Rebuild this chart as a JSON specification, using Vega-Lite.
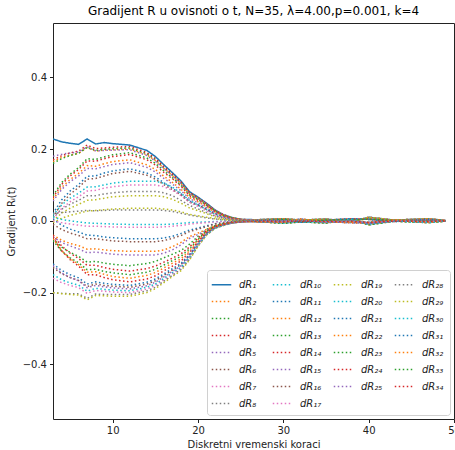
{
"$schema":"https://vega.github.io/schema/vega-lite/v6.json",
"width":401,"height":396,
"autosize":{"type":"none"},
"padding":{"left":53,"top":23,"right":1,"bottom":31},
"title":{"text":"Gradijent R u ovisnoti o t, N=35, λ=4.00,p=0.001, k=4","fontSize":12,"font":"DejaVu Sans","fontWeight":"normal","color":"#000","offset":5},
"config":{
"view":{"stroke":"#222","strokeWidth":1},
"axis":{"domain":false,"grid":false,"tickColor":"#222","tickSize":3.5,"tickWidth":1,"labelFont":"DejaVu Sans","labelFontSize":10,"labelColor":"#222","titleFont":"DejaVu Sans","titleFontSize":10,"titleFontWeight":"normal","titleColor":"#222","labelPadding":3},
"legend":{"orient":"bottom-right","direction":"horizontal","offset":4,"columns":4,"gridAlign":"all","symbolType":"M-1.3,0H1.3","symbolSize":225,"symbolStrokeWidth":1.5,"labelFont":"DejaVu Sans","labelFontSize":10,"labelFontStyle":"italic","labelColor":"#222","labelOffset":9,"rowPadding":3,"columnPadding":8,"padding":6,"fillColor":"white","strokeColor":"#d0d0d0","cornerRadius":3}
},
"data":{"values":[
{"s":1,"t":3,"v":0.228},{"s":1,"t":4,"v":0.22},{"s":1,"t":5,"v":0.216},{"s":1,"t":6,"v":0.213},{"s":1,"t":7,"v":0.228},{"s":1,"t":8,"v":0.214},{"s":1,"t":9,"v":0.218},{"s":1,"t":10,"v":0.215},{"s":1,"t":12,"v":0.211},{"s":1,"t":14,"v":0.196},{"s":1,"t":15,"v":0.179},{"s":1,"t":16,"v":0.156},{"s":1,"t":17,"v":0.134},{"s":1,"t":18,"v":0.111},{"s":1,"t":19,"v":0.081},{"s":1,"t":20,"v":0.066},{"s":1,"t":21,"v":0.049},{"s":1,"t":22,"v":0.03},{"s":1,"t":23,"v":0.017},{"s":1,"t":24,"v":0.009},{"s":1,"t":25,"v":0.004},{"s":1,"t":27,"v":0.003},{"s":1,"t":30,"v":0.006},{"s":1,"t":32,"v":0.002},{"s":1,"t":35,"v":0.005},{"s":1,"t":38,"v":-0.003},{"s":1,"t":40,"v":0.01},{"s":1,"t":43,"v":0.002},{"s":1,"t":47,"v":0.006},{"s":1,"t":49,"v":0.001},
{"s":2,"t":3,"v":0.165},{"s":2,"t":4,"v":0.176},{"s":2,"t":5,"v":0.183},{"s":2,"t":6,"v":0.188},{"s":2,"t":7,"v":0.204},{"s":2,"t":8,"v":0.194},{"s":2,"t":9,"v":0.197},{"s":2,"t":10,"v":0.198},{"s":2,"t":12,"v":0.2},{"s":2,"t":14,"v":0.184},{"s":2,"t":15,"v":0.168},{"s":2,"t":16,"v":0.146},{"s":2,"t":17,"v":0.126},{"s":2,"t":18,"v":0.104},{"s":2,"t":19,"v":0.076},{"s":2,"t":20,"v":0.062},{"s":2,"t":21,"v":0.046},{"s":2,"t":22,"v":0.028},{"s":2,"t":23,"v":0.016},{"s":2,"t":24,"v":0.008},{"s":2,"t":25,"v":0.004},{"s":2,"t":27,"v":-0.002},{"s":2,"t":30,"v":-0.007},{"s":2,"t":32,"v":-0.003},{"s":2,"t":35,"v":-0.006},{"s":2,"t":38,"v":0.004},{"s":2,"t":40,"v":-0.011},{"s":2,"t":43,"v":-0.001},{"s":2,"t":47,"v":-0.005},{"s":2,"t":49,"v":-0.001},
{"s":3,"t":3,"v":0.16},{"s":3,"t":4,"v":0.173},{"s":3,"t":5,"v":0.182},{"s":3,"t":6,"v":0.188},{"s":3,"t":7,"v":0.205},{"s":3,"t":8,"v":0.196},{"s":3,"t":9,"v":0.199},{"s":3,"t":10,"v":0.201},{"s":3,"t":12,"v":0.203},{"s":3,"t":14,"v":0.187},{"s":3,"t":15,"v":0.171},{"s":3,"t":16,"v":0.148},{"s":3,"t":17,"v":0.128},{"s":3,"t":18,"v":0.106},{"s":3,"t":19,"v":0.077},{"s":3,"t":20,"v":0.063},{"s":3,"t":21,"v":0.047},{"s":3,"t":22,"v":0.028},{"s":3,"t":23,"v":0.016},{"s":3,"t":24,"v":0.008},{"s":3,"t":25,"v":0.004},{"s":3,"t":27,"v":0.001},{"s":3,"t":30,"v":0.005},{"s":3,"t":32,"v":-0.004},{"s":3,"t":35,"v":0.002},{"s":3,"t":38,"v":0.006},{"s":3,"t":40,"v":0.004},{"s":3,"t":43,"v":-0.002},{"s":3,"t":47,"v":0.004},{"s":3,"t":49,"v":0},
{"s":4,"t":3,"v":0.17},{"s":4,"t":4,"v":0.181},{"s":4,"t":5,"v":0.189},{"s":4,"t":6,"v":0.194},{"s":4,"t":7,"v":0.211},{"s":4,"t":8,"v":0.201},{"s":4,"t":9,"v":0.203},{"s":4,"t":10,"v":0.205},{"s":4,"t":12,"v":0.207},{"s":4,"t":14,"v":0.19},{"s":4,"t":15,"v":0.174},{"s":4,"t":16,"v":0.151},{"s":4,"t":17,"v":0.13},{"s":4,"t":18,"v":0.108},{"s":4,"t":19,"v":0.079},{"s":4,"t":20,"v":0.064},{"s":4,"t":21,"v":0.048},{"s":4,"t":22,"v":0.029},{"s":4,"t":23,"v":0.017},{"s":4,"t":24,"v":0.008},{"s":4,"t":25,"v":0.004},{"s":4,"t":27,"v":-0.003},{"s":4,"t":30,"v":-0.004},{"s":4,"t":32,"v":0.005},{"s":4,"t":35,"v":-0.003},{"s":4,"t":38,"v":-0.005},{"s":4,"t":40,"v":-0.006},{"s":4,"t":43,"v":0.002},{"s":4,"t":47,"v":-0.004},{"s":4,"t":49,"v":0.001},
{"s":5,"t":3,"v":0.18},{"s":5,"t":4,"v":0.185},{"s":5,"t":5,"v":0.189},{"s":5,"t":6,"v":0.192},{"s":5,"t":7,"v":0.206},{"s":5,"t":8,"v":0.195},{"s":5,"t":9,"v":0.196},{"s":5,"t":10,"v":0.197},{"s":5,"t":12,"v":0.198},{"s":5,"t":14,"v":0.182},{"s":5,"t":15,"v":0.166},{"s":5,"t":16,"v":0.145},{"s":5,"t":17,"v":0.125},{"s":5,"t":18,"v":0.103},{"s":5,"t":19,"v":0.075},{"s":5,"t":20,"v":0.061},{"s":5,"t":21,"v":0.046},{"s":5,"t":22,"v":0.028},{"s":5,"t":23,"v":0.016},{"s":5,"t":24,"v":0.008},{"s":5,"t":25,"v":0.004},{"s":5,"t":27,"v":0.001},{"s":5,"t":30,"v":0.003},{"s":5,"t":32,"v":0.001},{"s":5,"t":35,"v":0.002},{"s":5,"t":38,"v":0.002},{"s":5,"t":40,"v":0.005},{"s":5,"t":43,"v":0.001},{"s":5,"t":47,"v":0.002},{"s":5,"t":49,"v":0},
{"s":6,"t":3,"v":-0.13},{"s":6,"t":4,"v":-0.147},{"s":6,"t":5,"v":-0.158},{"s":6,"t":6,"v":-0.166},{"s":6,"t":7,"v":-0.183},{"s":6,"t":8,"v":-0.176},{"s":6,"t":9,"v":-0.18},{"s":6,"t":10,"v":-0.182},{"s":6,"t":12,"v":-0.185},{"s":6,"t":14,"v":-0.176},{"s":6,"t":15,"v":-0.167},{"s":6,"t":16,"v":-0.152},{"s":6,"t":17,"v":-0.137},{"s":6,"t":18,"v":-0.122},{"s":6,"t":19,"v":-0.096},{"s":6,"t":20,"v":-0.063},{"s":6,"t":21,"v":-0.035},{"s":6,"t":22,"v":-0.019},{"s":6,"t":23,"v":-0.011},{"s":6,"t":24,"v":-0.006},{"s":6,"t":25,"v":-0.003},{"s":6,"t":27,"v":-0.001},{"s":6,"t":30,"v":-0.003},{"s":6,"t":32,"v":-0.001},{"s":6,"t":35,"v":-0.002},{"s":6,"t":38,"v":-0.002},{"s":6,"t":40,"v":-0.004},{"s":6,"t":43,"v":-0.001},{"s":6,"t":47,"v":-0.002},{"s":6,"t":49,"v":0},
{"s":7,"t":3,"v":-0.16},{"s":7,"t":4,"v":-0.172},{"s":7,"t":5,"v":-0.18},{"s":7,"t":6,"v":-0.186},{"s":7,"t":7,"v":-0.202},{"s":7,"t":8,"v":-0.194},{"s":7,"t":9,"v":-0.196},{"s":7,"t":10,"v":-0.198},{"s":7,"t":12,"v":-0.2},{"s":7,"t":14,"v":-0.19},{"s":7,"t":15,"v":-0.18},{"s":7,"t":16,"v":-0.164},{"s":7,"t":17,"v":-0.148},{"s":7,"t":18,"v":-0.132},{"s":7,"t":19,"v":-0.104},{"s":7,"t":20,"v":-0.068},{"s":7,"t":21,"v":-0.038},{"s":7,"t":22,"v":-0.02},{"s":7,"t":23,"v":-0.012},{"s":7,"t":24,"v":-0.006},{"s":7,"t":25,"v":-0.003},{"s":7,"t":27,"v":0.002},{"s":7,"t":30,"v":0},{"s":7,"t":32,"v":0.002},{"s":7,"t":35,"v":-0.004},{"s":7,"t":38,"v":0.001},{"s":7,"t":40,"v":-0.008},{"s":7,"t":43,"v":0},{"s":7,"t":47,"v":0.003},{"s":7,"t":49,"v":-0.001},
{"s":8,"t":3,"v":-0.2},{"s":8,"t":4,"v":-0.202},{"s":8,"t":5,"v":-0.203},{"s":8,"t":6,"v":-0.203},{"s":8,"t":7,"v":-0.216},{"s":8,"t":8,"v":-0.204},{"s":8,"t":9,"v":-0.205},{"s":8,"t":10,"v":-0.205},{"s":8,"t":12,"v":-0.205},{"s":8,"t":14,"v":-0.195},{"s":8,"t":15,"v":-0.185},{"s":8,"t":16,"v":-0.168},{"s":8,"t":17,"v":-0.152},{"s":8,"t":18,"v":-0.135},{"s":8,"t":19,"v":-0.107},{"s":8,"t":20,"v":-0.07},{"s":8,"t":21,"v":-0.039},{"s":8,"t":22,"v":-0.021},{"s":8,"t":23,"v":-0.012},{"s":8,"t":24,"v":-0.006},{"s":8,"t":25,"v":-0.003},{"s":8,"t":27,"v":0.003},{"s":8,"t":30,"v":0.006},{"s":8,"t":32,"v":0.002},{"s":8,"t":35,"v":0.005},{"s":8,"t":38,"v":-0.003},{"s":8,"t":40,"v":0.01},{"s":8,"t":43,"v":0.002},{"s":8,"t":47,"v":0.006},{"s":8,"t":49,"v":0.001},
{"s":9,"t":3,"v":0},{"s":9,"t":4,"v":0.021},{"s":9,"t":5,"v":0.035},{"s":9,"t":6,"v":0.046},{"s":9,"t":7,"v":0.057},{"s":9,"t":8,"v":0.059},{"s":9,"t":9,"v":0.063},{"s":9,"t":10,"v":0.067},{"s":9,"t":12,"v":0.07},{"s":9,"t":14,"v":0.07},{"s":9,"t":15,"v":0.07},{"s":9,"t":16,"v":0.067},{"s":9,"t":17,"v":0.06},{"s":9,"t":18,"v":0.049},{"s":9,"t":19,"v":0.036},{"s":9,"t":20,"v":0.028},{"s":9,"t":21,"v":0.02},{"s":9,"t":22,"v":0.011},{"s":9,"t":23,"v":0.006},{"s":9,"t":24,"v":0.003},{"s":9,"t":25,"v":0.001},{"s":9,"t":27,"v":-0.002},{"s":9,"t":30,"v":-0.007},{"s":9,"t":32,"v":-0.003},{"s":9,"t":35,"v":-0.006},{"s":9,"t":38,"v":0.004},{"s":9,"t":40,"v":-0.011},{"s":9,"t":43,"v":-0.001},{"s":9,"t":47,"v":-0.005},{"s":9,"t":49,"v":-0.001},
{"s":10,"t":3,"v":0.015},{"s":10,"t":4,"v":0.044},{"s":10,"t":5,"v":0.063},{"s":10,"t":6,"v":0.077},{"s":10,"t":7,"v":0.094},{"s":10,"t":8,"v":0.095},{"s":10,"t":9,"v":0.1},{"s":10,"t":10,"v":0.105},{"s":10,"t":12,"v":0.11},{"s":10,"t":14,"v":0.11},{"s":10,"t":15,"v":0.11},{"s":10,"t":16,"v":0.105},{"s":10,"t":17,"v":0.094},{"s":10,"t":18,"v":0.077},{"s":10,"t":19,"v":0.057},{"s":10,"t":20,"v":0.044},{"s":10,"t":21,"v":0.031},{"s":10,"t":22,"v":0.018},{"s":10,"t":23,"v":0.01},{"s":10,"t":24,"v":0.005},{"s":10,"t":25,"v":0.002},{"s":10,"t":27,"v":0.001},{"s":10,"t":30,"v":0.005},{"s":10,"t":32,"v":-0.004},{"s":10,"t":35,"v":0.002},{"s":10,"t":38,"v":0.006},{"s":10,"t":40,"v":0.004},{"s":10,"t":43,"v":-0.002},{"s":10,"t":47,"v":0.004},{"s":10,"t":49,"v":0},
{"s":11,"t":3,"v":0.02},{"s":11,"t":4,"v":0.058},{"s":11,"t":5,"v":0.083},{"s":11,"t":6,"v":0.101},{"s":11,"t":7,"v":0.124},{"s":11,"t":8,"v":0.125},{"s":11,"t":9,"v":0.133},{"s":11,"t":10,"v":0.139},{"s":11,"t":12,"v":0.145},{"s":11,"t":14,"v":0.133},{"s":11,"t":15,"v":0.122},{"s":11,"t":16,"v":0.106},{"s":11,"t":17,"v":0.091},{"s":11,"t":18,"v":0.075},{"s":11,"t":19,"v":0.055},{"s":11,"t":20,"v":0.045},{"s":11,"t":21,"v":0.033},{"s":11,"t":22,"v":0.02},{"s":11,"t":23,"v":0.012},{"s":11,"t":24,"v":0.006},{"s":11,"t":25,"v":0.003},{"s":11,"t":27,"v":-0.003},{"s":11,"t":30,"v":-0.004},{"s":11,"t":32,"v":0.005},{"s":11,"t":35,"v":-0.003},{"s":11,"t":38,"v":-0.005},{"s":11,"t":40,"v":-0.006},{"s":11,"t":43,"v":0.002},{"s":11,"t":47,"v":-0.004},{"s":11,"t":49,"v":0.001},
{"s":12,"t":3,"v":0.06},{"s":12,"t":4,"v":0.093},{"s":12,"t":5,"v":0.115},{"s":12,"t":6,"v":0.132},{"s":12,"t":7,"v":0.154},{"s":12,"t":8,"v":0.152},{"s":12,"t":9,"v":0.159},{"s":12,"t":10,"v":0.165},{"s":12,"t":12,"v":0.17},{"s":12,"t":14,"v":0.156},{"s":12,"t":15,"v":0.143},{"s":12,"t":16,"v":0.124},{"s":12,"t":17,"v":0.107},{"s":12,"t":18,"v":0.088},{"s":12,"t":19,"v":0.065},{"s":12,"t":20,"v":0.053},{"s":12,"t":21,"v":0.039},{"s":12,"t":22,"v":0.024},{"s":12,"t":23,"v":0.014},{"s":12,"t":24,"v":0.007},{"s":12,"t":25,"v":0.003},{"s":12,"t":27,"v":0.001},{"s":12,"t":30,"v":0.003},{"s":12,"t":32,"v":0.001},{"s":12,"t":35,"v":0.002},{"s":12,"t":38,"v":0.002},{"s":12,"t":40,"v":0.005},{"s":12,"t":43,"v":0.001},{"s":12,"t":47,"v":0.002},{"s":12,"t":49,"v":0},
{"s":13,"t":3,"v":0.07},{"s":13,"t":4,"v":0.106},{"s":13,"t":5,"v":0.13},{"s":13,"t":6,"v":0.148},{"s":13,"t":7,"v":0.173},{"s":13,"t":8,"v":0.171},{"s":13,"t":9,"v":0.178},{"s":13,"t":10,"v":0.184},{"s":13,"t":12,"v":0.19},{"s":13,"t":14,"v":0.175},{"s":13,"t":15,"v":0.16},{"s":13,"t":16,"v":0.139},{"s":13,"t":17,"v":0.12},{"s":13,"t":18,"v":0.099},{"s":13,"t":19,"v":0.072},{"s":13,"t":20,"v":0.059},{"s":13,"t":21,"v":0.044},{"s":13,"t":22,"v":0.027},{"s":13,"t":23,"v":0.015},{"s":13,"t":24,"v":0.008},{"s":13,"t":25,"v":0.004},{"s":13,"t":27,"v":-0.001},{"s":13,"t":30,"v":-0.003},{"s":13,"t":32,"v":-0.001},{"s":13,"t":35,"v":-0.002},{"s":13,"t":38,"v":-0.002},{"s":13,"t":40,"v":-0.004},{"s":13,"t":43,"v":-0.001},{"s":13,"t":47,"v":-0.002},{"s":13,"t":49,"v":0},
{"s":14,"t":3,"v":0.065},{"s":14,"t":4,"v":0.101},{"s":14,"t":5,"v":0.125},{"s":14,"t":6,"v":0.143},{"s":14,"t":7,"v":0.167},{"s":14,"t":8,"v":0.166},{"s":14,"t":9,"v":0.173},{"s":14,"t":10,"v":0.179},{"s":14,"t":12,"v":0.185},{"s":14,"t":14,"v":0.17},{"s":14,"t":15,"v":0.155},{"s":14,"t":16,"v":0.135},{"s":14,"t":17,"v":0.117},{"s":14,"t":18,"v":0.096},{"s":14,"t":19,"v":0.07},{"s":14,"t":20,"v":0.057},{"s":14,"t":21,"v":0.043},{"s":14,"t":22,"v":0.026},{"s":14,"t":23,"v":0.015},{"s":14,"t":24,"v":0.007},{"s":14,"t":25,"v":0.004},{"s":14,"t":27,"v":0.002},{"s":14,"t":30,"v":0},{"s":14,"t":32,"v":0.002},{"s":14,"t":35,"v":-0.004},{"s":14,"t":38,"v":0.001},{"s":14,"t":40,"v":-0.008},{"s":14,"t":43,"v":0},{"s":14,"t":47,"v":0.003},{"s":14,"t":49,"v":-0.001},
{"s":15,"t":3,"v":0.055},{"s":15,"t":4,"v":0.087},{"s":15,"t":5,"v":0.109},{"s":15,"t":6,"v":0.125},{"s":15,"t":7,"v":0.146},{"s":15,"t":8,"v":0.145},{"s":15,"t":9,"v":0.151},{"s":15,"t":10,"v":0.157},{"s":15,"t":12,"v":0.162},{"s":15,"t":14,"v":0.149},{"s":15,"t":15,"v":0.136},{"s":15,"t":16,"v":0.118},{"s":15,"t":17,"v":0.102},{"s":15,"t":18,"v":0.084},{"s":15,"t":19,"v":0.062},{"s":15,"t":20,"v":0.05},{"s":15,"t":21,"v":0.037},{"s":15,"t":22,"v":0.023},{"s":15,"t":23,"v":0.013},{"s":15,"t":24,"v":0.006},{"s":15,"t":25,"v":0.003},{"s":15,"t":27,"v":0.003},{"s":15,"t":30,"v":0.006},{"s":15,"t":32,"v":0.002},{"s":15,"t":35,"v":0.005},{"s":15,"t":38,"v":-0.003},{"s":15,"t":40,"v":0.01},{"s":15,"t":43,"v":0.002},{"s":15,"t":47,"v":0.006},{"s":15,"t":49,"v":0.001},
{"s":16,"t":3,"v":0.01},{"s":16,"t":4,"v":0.048},{"s":16,"t":5,"v":0.074},{"s":16,"t":6,"v":0.093},{"s":16,"t":7,"v":0.116},{"s":16,"t":8,"v":0.118},{"s":16,"t":9,"v":0.125},{"s":16,"t":10,"v":0.132},{"s":16,"t":12,"v":0.138},{"s":16,"t":14,"v":0.127},{"s":16,"t":15,"v":0.116},{"s":16,"t":16,"v":0.101},{"s":16,"t":17,"v":0.087},{"s":16,"t":18,"v":0.072},{"s":16,"t":19,"v":0.052},{"s":16,"t":20,"v":0.043},{"s":16,"t":21,"v":0.032},{"s":16,"t":22,"v":0.019},{"s":16,"t":23,"v":0.011},{"s":16,"t":24,"v":0.006},{"s":16,"t":25,"v":0.003},{"s":16,"t":27,"v":-0.002},{"s":16,"t":30,"v":-0.007},{"s":16,"t":32,"v":-0.003},{"s":16,"t":35,"v":-0.006},{"s":16,"t":38,"v":0.004},{"s":16,"t":40,"v":-0.011},{"s":16,"t":43,"v":-0.001},{"s":16,"t":47,"v":-0.005},{"s":16,"t":49,"v":-0.001},
{"s":17,"t":3,"v":0.005},{"s":17,"t":4,"v":0.034},{"s":17,"t":5,"v":0.053},{"s":17,"t":6,"v":0.067},{"s":17,"t":7,"v":0.083},{"s":17,"t":8,"v":0.085},{"s":17,"t":9,"v":0.091},{"s":17,"t":10,"v":0.095},{"s":17,"t":12,"v":0.1},{"s":17,"t":14,"v":0.1},{"s":17,"t":15,"v":0.1},{"s":17,"t":16,"v":0.095},{"s":17,"t":17,"v":0.085},{"s":17,"t":18,"v":0.07},{"s":17,"t":19,"v":0.052},{"s":17,"t":20,"v":0.04},{"s":17,"t":21,"v":0.028},{"s":17,"t":22,"v":0.016},{"s":17,"t":23,"v":0.009},{"s":17,"t":24,"v":0.005},{"s":17,"t":25,"v":0.002},{"s":17,"t":27,"v":0.001},{"s":17,"t":30,"v":0.005},{"s":17,"t":32,"v":-0.004},{"s":17,"t":35,"v":0.002},{"s":17,"t":38,"v":0.006},{"s":17,"t":40,"v":0.004},{"s":17,"t":43,"v":-0.002},{"s":17,"t":47,"v":0.004},{"s":17,"t":49,"v":0},
{"s":18,"t":3,"v":0.01},{"s":18,"t":4,"v":0.032},{"s":18,"t":5,"v":0.046},{"s":18,"t":6,"v":0.057},{"s":18,"t":7,"v":0.07},{"s":18,"t":8,"v":0.07},{"s":18,"t":9,"v":0.075},{"s":18,"t":10,"v":0.078},{"s":18,"t":12,"v":0.082},{"s":18,"t":14,"v":0.082},{"s":18,"t":15,"v":0.082},{"s":18,"t":16,"v":0.078},{"s":18,"t":17,"v":0.07},{"s":18,"t":18,"v":0.057},{"s":18,"t":19,"v":0.043},{"s":18,"t":20,"v":0.033},{"s":18,"t":21,"v":0.023},{"s":18,"t":22,"v":0.013},{"s":18,"t":23,"v":0.007},{"s":18,"t":24,"v":0.004},{"s":18,"t":25,"v":0.002},{"s":18,"t":27,"v":-0.003},{"s":18,"t":30,"v":-0.004},{"s":18,"t":32,"v":0.005},{"s":18,"t":35,"v":-0.003},{"s":18,"t":38,"v":-0.005},{"s":18,"t":40,"v":-0.006},{"s":18,"t":43,"v":0.002},{"s":18,"t":47,"v":-0.004},{"s":18,"t":49,"v":0.001},
{"s":19,"t":3,"v":-0.005},{"s":19,"t":4,"v":0.007},{"s":19,"t":5,"v":0.015},{"s":19,"t":6,"v":0.021},{"s":19,"t":7,"v":0.027},{"s":19,"t":8,"v":0.029},{"s":19,"t":9,"v":0.031},{"s":19,"t":10,"v":0.033},{"s":19,"t":12,"v":0.035},{"s":19,"t":14,"v":0.035},{"s":19,"t":15,"v":0.035},{"s":19,"t":16,"v":0.033},{"s":19,"t":17,"v":0.03},{"s":19,"t":18,"v":0.025},{"s":19,"t":19,"v":0.018},{"s":19,"t":20,"v":0.014},{"s":19,"t":21,"v":0.01},{"s":19,"t":22,"v":0.006},{"s":19,"t":23,"v":0.003},{"s":19,"t":24,"v":0.002},{"s":19,"t":25,"v":0.001},{"s":19,"t":27,"v":0.001},{"s":19,"t":30,"v":0.003},{"s":19,"t":32,"v":0.001},{"s":19,"t":35,"v":0.002},{"s":19,"t":38,"v":0.002},{"s":19,"t":40,"v":0.005},{"s":19,"t":43,"v":0.001},{"s":19,"t":47,"v":0.002},{"s":19,"t":49,"v":0},
{"s":20,"t":3,"v":0.01},{"s":20,"t":4,"v":0.004},{"s":20,"t":5,"v":0},{"s":20,"t":6,"v":-0.003},{"s":20,"t":7,"v":-0.006},{"s":20,"t":8,"v":-0.007},{"s":20,"t":9,"v":-0.008},{"s":20,"t":10,"v":-0.009},{"s":20,"t":12,"v":-0.01},{"s":20,"t":14,"v":-0.01},{"s":20,"t":15,"v":-0.01},{"s":20,"t":16,"v":-0.01},{"s":20,"t":17,"v":-0.009},{"s":20,"t":18,"v":-0.007},{"s":20,"t":19,"v":-0.005},{"s":20,"t":20,"v":-0.004},{"s":20,"t":21,"v":-0.003},{"s":20,"t":22,"v":-0.002},{"s":20,"t":23,"v":-0.001},{"s":20,"t":24,"v":0},{"s":20,"t":25,"v":0},{"s":20,"t":27,"v":-0.001},{"s":20,"t":30,"v":-0.003},{"s":20,"t":32,"v":-0.001},{"s":20,"t":35,"v":-0.002},{"s":20,"t":38,"v":-0.002},{"s":20,"t":40,"v":-0.004},{"s":20,"t":43,"v":-0.001},{"s":20,"t":47,"v":-0.002},{"s":20,"t":49,"v":0},
{"s":21,"t":3,"v":0.005},{"s":21,"t":4,"v":-0.012},{"s":21,"t":5,"v":-0.023},{"s":21,"t":6,"v":-0.031},{"s":21,"t":7,"v":-0.04},{"s":21,"t":8,"v":-0.041},{"s":21,"t":9,"v":-0.045},{"s":21,"t":10,"v":-0.047},{"s":21,"t":12,"v":-0.05},{"s":21,"t":14,"v":-0.05},{"s":21,"t":15,"v":-0.05},{"s":21,"t":16,"v":-0.048},{"s":21,"t":17,"v":-0.043},{"s":21,"t":18,"v":-0.035},{"s":21,"t":19,"v":-0.026},{"s":21,"t":20,"v":-0.02},{"s":21,"t":21,"v":-0.014},{"s":21,"t":22,"v":-0.008},{"s":21,"t":23,"v":-0.005},{"s":21,"t":24,"v":-0.002},{"s":21,"t":25,"v":-0.001},{"s":21,"t":27,"v":0.002},{"s":21,"t":30,"v":0},{"s":21,"t":32,"v":0.002},{"s":21,"t":35,"v":-0.004},{"s":21,"t":38,"v":0.001},{"s":21,"t":40,"v":-0.008},{"s":21,"t":43,"v":0},{"s":21,"t":47,"v":0.003},{"s":21,"t":49,"v":-0.001},
{"s":22,"t":3,"v":-0.04},{"s":22,"t":4,"v":-0.054},{"s":22,"t":5,"v":-0.063},{"s":22,"t":6,"v":-0.069},{"s":22,"t":7,"v":-0.079},{"s":22,"t":8,"v":-0.078},{"s":22,"t":9,"v":-0.081},{"s":22,"t":10,"v":-0.083},{"s":22,"t":12,"v":-0.085},{"s":22,"t":14,"v":-0.085},{"s":22,"t":15,"v":-0.085},{"s":22,"t":16,"v":-0.081},{"s":22,"t":17,"v":-0.072},{"s":22,"t":18,"v":-0.06},{"s":22,"t":19,"v":-0.044},{"s":22,"t":20,"v":-0.034},{"s":22,"t":21,"v":-0.024},{"s":22,"t":22,"v":-0.014},{"s":22,"t":23,"v":-0.008},{"s":22,"t":24,"v":-0.004},{"s":22,"t":25,"v":-0.002},{"s":22,"t":27,"v":0.003},{"s":22,"t":30,"v":0.006},{"s":22,"t":32,"v":0.002},{"s":22,"t":35,"v":0.005},{"s":22,"t":38,"v":-0.003},{"s":22,"t":40,"v":0.01},{"s":22,"t":43,"v":0.002},{"s":22,"t":47,"v":0.006},{"s":22,"t":49,"v":0.001},
{"s":23,"t":3,"v":-0.05},{"s":23,"t":4,"v":-0.073},{"s":23,"t":5,"v":-0.088},{"s":23,"t":6,"v":-0.099},{"s":23,"t":7,"v":-0.115},{"s":23,"t":8,"v":-0.113},{"s":23,"t":9,"v":-0.118},{"s":23,"t":10,"v":-0.121},{"s":23,"t":12,"v":-0.125},{"s":23,"t":14,"v":-0.119},{"s":23,"t":15,"v":-0.113},{"s":23,"t":16,"v":-0.103},{"s":23,"t":17,"v":-0.093},{"s":23,"t":18,"v":-0.083},{"s":23,"t":19,"v":-0.065},{"s":23,"t":20,"v":-0.043},{"s":23,"t":21,"v":-0.024},{"s":23,"t":22,"v":-0.013},{"s":23,"t":23,"v":-0.008},{"s":23,"t":24,"v":-0.004},{"s":23,"t":25,"v":-0.002},{"s":23,"t":27,"v":-0.002},{"s":23,"t":30,"v":-0.007},{"s":23,"t":32,"v":-0.003},{"s":23,"t":35,"v":-0.006},{"s":23,"t":38,"v":0.004},{"s":23,"t":40,"v":-0.011},{"s":23,"t":43,"v":-0.001},{"s":23,"t":47,"v":-0.005},{"s":23,"t":49,"v":-0.001},
{"s":24,"t":3,"v":-0.04},{"s":24,"t":4,"v":-0.07},{"s":24,"t":5,"v":-0.09},{"s":24,"t":6,"v":-0.105},{"s":24,"t":7,"v":-0.124},{"s":24,"t":8,"v":-0.124},{"s":24,"t":9,"v":-0.13},{"s":24,"t":10,"v":-0.135},{"s":24,"t":12,"v":-0.14},{"s":24,"t":14,"v":-0.133},{"s":24,"t":15,"v":-0.126},{"s":24,"t":16,"v":-0.115},{"s":24,"t":17,"v":-0.104},{"s":24,"t":18,"v":-0.092},{"s":24,"t":19,"v":-0.073},{"s":24,"t":20,"v":-0.048},{"s":24,"t":21,"v":-0.027},{"s":24,"t":22,"v":-0.014},{"s":24,"t":23,"v":-0.008},{"s":24,"t":24,"v":-0.004},{"s":24,"t":25,"v":-0.002},{"s":24,"t":27,"v":0.001},{"s":24,"t":30,"v":0.005},{"s":24,"t":32,"v":-0.004},{"s":24,"t":35,"v":0.002},{"s":24,"t":38,"v":0.006},{"s":24,"t":40,"v":0.004},{"s":24,"t":43,"v":-0.002},{"s":24,"t":47,"v":0.004},{"s":24,"t":49,"v":0},
{"s":25,"t":3,"v":-0.045},{"s":25,"t":4,"v":-0.06},{"s":25,"t":5,"v":-0.07},{"s":25,"t":6,"v":-0.078},{"s":25,"t":7,"v":-0.089},{"s":25,"t":8,"v":-0.087},{"s":25,"t":9,"v":-0.09},{"s":25,"t":10,"v":-0.093},{"s":25,"t":12,"v":-0.095},{"s":25,"t":14,"v":-0.095},{"s":25,"t":15,"v":-0.095},{"s":25,"t":16,"v":-0.09},{"s":25,"t":17,"v":-0.081},{"s":25,"t":18,"v":-0.067},{"s":25,"t":19,"v":-0.049},{"s":25,"t":20,"v":-0.038},{"s":25,"t":21,"v":-0.027},{"s":25,"t":22,"v":-0.015},{"s":25,"t":23,"v":-0.009},{"s":25,"t":24,"v":-0.004},{"s":25,"t":25,"v":-0.002},{"s":25,"t":27,"v":-0.003},{"s":25,"t":30,"v":-0.004},{"s":25,"t":32,"v":0.005},{"s":25,"t":35,"v":-0.003},{"s":25,"t":38,"v":-0.005},{"s":25,"t":40,"v":-0.006},{"s":25,"t":43,"v":0.002},{"s":25,"t":47,"v":-0.004},{"s":25,"t":49,"v":0.001},
{"s":26,"t":3,"v":-0.01},{"s":26,"t":4,"v":-0.024},{"s":26,"t":5,"v":-0.034},{"s":26,"t":6,"v":-0.041},{"s":26,"t":7,"v":-0.05},{"s":26,"t":8,"v":-0.05},{"s":26,"t":9,"v":-0.053},{"s":26,"t":10,"v":-0.056},{"s":26,"t":12,"v":-0.058},{"s":26,"t":14,"v":-0.058},{"s":26,"t":15,"v":-0.058},{"s":26,"t":16,"v":-0.055},{"s":26,"t":17,"v":-0.049},{"s":26,"t":18,"v":-0.041},{"s":26,"t":19,"v":-0.03},{"s":26,"t":20,"v":-0.023},{"s":26,"t":21,"v":-0.016},{"s":26,"t":22,"v":-0.009},{"s":26,"t":23,"v":-0.005},{"s":26,"t":24,"v":-0.003},{"s":26,"t":25,"v":-0.001},{"s":26,"t":27,"v":0.001},{"s":26,"t":30,"v":0.003},{"s":26,"t":32,"v":0.001},{"s":26,"t":35,"v":0.002},{"s":26,"t":38,"v":0.002},{"s":26,"t":40,"v":0.005},{"s":26,"t":43,"v":0.001},{"s":26,"t":47,"v":0.002},{"s":26,"t":49,"v":0},
{"s":27,"t":3,"v":0},{"s":27,"t":4,"v":-0.005},{"s":27,"t":5,"v":-0.009},{"s":27,"t":6,"v":-0.012},{"s":27,"t":7,"v":-0.015},{"s":27,"t":8,"v":-0.015},{"s":27,"t":9,"v":-0.016},{"s":27,"t":10,"v":-0.017},{"s":27,"t":12,"v":-0.018},{"s":27,"t":14,"v":-0.018},{"s":27,"t":15,"v":-0.018},{"s":27,"t":16,"v":-0.017},{"s":27,"t":17,"v":-0.015},{"s":27,"t":18,"v":-0.013},{"s":27,"t":19,"v":-0.009},{"s":27,"t":20,"v":-0.007},{"s":27,"t":21,"v":-0.005},{"s":27,"t":22,"v":-0.003},{"s":27,"t":23,"v":-0.002},{"s":27,"t":24,"v":-0.001},{"s":27,"t":25,"v":0},{"s":27,"t":27,"v":-0.001},{"s":27,"t":30,"v":-0.003},{"s":27,"t":32,"v":-0.001},{"s":27,"t":35,"v":-0.002},{"s":27,"t":38,"v":-0.002},{"s":27,"t":40,"v":-0.004},{"s":27,"t":43,"v":-0.001},{"s":27,"t":47,"v":-0.002},{"s":27,"t":49,"v":0},
{"s":28,"t":3,"v":0.02},{"s":28,"t":4,"v":0.023},{"s":28,"t":5,"v":0.025},{"s":28,"t":6,"v":0.027},{"s":28,"t":7,"v":0.029},{"s":28,"t":8,"v":0.028},{"s":28,"t":9,"v":0.029},{"s":28,"t":10,"v":0.03},{"s":28,"t":12,"v":0.03},{"s":28,"t":14,"v":0.03},{"s":28,"t":15,"v":0.03},{"s":28,"t":16,"v":0.029},{"s":28,"t":17,"v":0.026},{"s":28,"t":18,"v":0.021},{"s":28,"t":19,"v":0.016},{"s":28,"t":20,"v":0.012},{"s":28,"t":21,"v":0.008},{"s":28,"t":22,"v":0.005},{"s":28,"t":23,"v":0.003},{"s":28,"t":24,"v":0.001},{"s":28,"t":25,"v":0.001},{"s":28,"t":27,"v":0.002},{"s":28,"t":30,"v":0},{"s":28,"t":32,"v":0.002},{"s":28,"t":35,"v":-0.004},{"s":28,"t":38,"v":0.001},{"s":28,"t":40,"v":-0.008},{"s":28,"t":43,"v":0},{"s":28,"t":47,"v":0.003},{"s":28,"t":49,"v":-0.001},
{"s":29,"t":3,"v":-0.2},{"s":29,"t":4,"v":-0.203},{"s":29,"t":5,"v":-0.205},{"s":29,"t":6,"v":-0.207},{"s":29,"t":7,"v":-0.22},{"s":29,"t":8,"v":-0.208},{"s":29,"t":9,"v":-0.209},{"s":29,"t":10,"v":-0.21},{"s":29,"t":12,"v":-0.21},{"s":29,"t":14,"v":-0.2},{"s":29,"t":15,"v":-0.189},{"s":29,"t":16,"v":-0.172},{"s":29,"t":17,"v":-0.155},{"s":29,"t":18,"v":-0.139},{"s":29,"t":19,"v":-0.109},{"s":29,"t":20,"v":-0.071},{"s":29,"t":21,"v":-0.04},{"s":29,"t":22,"v":-0.021},{"s":29,"t":23,"v":-0.013},{"s":29,"t":24,"v":-0.006},{"s":29,"t":25,"v":-0.003},{"s":29,"t":27,"v":0.003},{"s":29,"t":30,"v":0.006},{"s":29,"t":32,"v":0.002},{"s":29,"t":35,"v":0.005},{"s":29,"t":38,"v":-0.003},{"s":29,"t":40,"v":0.01},{"s":29,"t":43,"v":0.002},{"s":29,"t":47,"v":0.006},{"s":29,"t":49,"v":0.001},
{"s":30,"t":3,"v":-0.15},{"s":30,"t":4,"v":-0.164},{"s":30,"t":5,"v":-0.173},{"s":30,"t":6,"v":-0.179},{"s":30,"t":7,"v":-0.196},{"s":30,"t":8,"v":-0.188},{"s":30,"t":9,"v":-0.191},{"s":30,"t":10,"v":-0.193},{"s":30,"t":12,"v":-0.195},{"s":30,"t":14,"v":-0.185},{"s":30,"t":15,"v":-0.176},{"s":30,"t":16,"v":-0.16},{"s":30,"t":17,"v":-0.144},{"s":30,"t":18,"v":-0.129},{"s":30,"t":19,"v":-0.101},{"s":30,"t":20,"v":-0.066},{"s":30,"t":21,"v":-0.037},{"s":30,"t":22,"v":-0.02},{"s":30,"t":23,"v":-0.012},{"s":30,"t":24,"v":-0.006},{"s":30,"t":25,"v":-0.003},{"s":30,"t":27,"v":-0.002},{"s":30,"t":30,"v":-0.007},{"s":30,"t":32,"v":-0.003},{"s":30,"t":35,"v":-0.006},{"s":30,"t":38,"v":0.004},{"s":30,"t":40,"v":-0.011},{"s":30,"t":43,"v":-0.001},{"s":30,"t":47,"v":-0.005},{"s":30,"t":49,"v":-0.001},
{"s":31,"t":3,"v":-0.12},{"s":31,"t":4,"v":-0.138},{"s":31,"t":5,"v":-0.15},{"s":31,"t":6,"v":-0.159},{"s":31,"t":7,"v":-0.176},{"s":31,"t":8,"v":-0.17},{"s":31,"t":9,"v":-0.174},{"s":31,"t":10,"v":-0.177},{"s":31,"t":12,"v":-0.18},{"s":31,"t":14,"v":-0.171},{"s":31,"t":15,"v":-0.162},{"s":31,"t":16,"v":-0.148},{"s":31,"t":17,"v":-0.133},{"s":31,"t":18,"v":-0.119},{"s":31,"t":19,"v":-0.094},{"s":31,"t":20,"v":-0.061},{"s":31,"t":21,"v":-0.034},{"s":31,"t":22,"v":-0.018},{"s":31,"t":23,"v":-0.011},{"s":31,"t":24,"v":-0.005},{"s":31,"t":25,"v":-0.003},{"s":31,"t":27,"v":0.001},{"s":31,"t":30,"v":0.005},{"s":31,"t":32,"v":-0.004},{"s":31,"t":35,"v":0.002},{"s":31,"t":38,"v":0.006},{"s":31,"t":40,"v":0.004},{"s":31,"t":43,"v":-0.002},{"s":31,"t":47,"v":0.004},{"s":31,"t":49,"v":0},
{"s":32,"t":3,"v":-0.05},{"s":32,"t":4,"v":-0.083},{"s":32,"t":5,"v":-0.105},{"s":32,"t":6,"v":-0.122},{"s":32,"t":7,"v":-0.143},{"s":32,"t":8,"v":-0.142},{"s":32,"t":9,"v":-0.149},{"s":32,"t":10,"v":-0.155},{"s":32,"t":12,"v":-0.16},{"s":32,"t":14,"v":-0.152},{"s":32,"t":15,"v":-0.144},{"s":32,"t":16,"v":-0.131},{"s":32,"t":17,"v":-0.118},{"s":32,"t":18,"v":-0.106},{"s":32,"t":19,"v":-0.083},{"s":32,"t":20,"v":-0.054},{"s":32,"t":21,"v":-0.03},{"s":32,"t":22,"v":-0.016},{"s":32,"t":23,"v":-0.01},{"s":32,"t":24,"v":-0.005},{"s":32,"t":25,"v":-0.002},{"s":32,"t":27,"v":-0.003},{"s":32,"t":30,"v":-0.004},{"s":32,"t":32,"v":0.005},{"s":32,"t":35,"v":-0.003},{"s":32,"t":38,"v":-0.005},{"s":32,"t":40,"v":-0.006},{"s":32,"t":43,"v":0.002},{"s":32,"t":47,"v":-0.004},{"s":32,"t":49,"v":0.001},
{"s":33,"t":3,"v":-0.055},{"s":33,"t":4,"v":-0.084},{"s":33,"t":5,"v":-0.103},{"s":33,"t":6,"v":-0.117},{"s":33,"t":7,"v":-0.136},{"s":33,"t":8,"v":-0.135},{"s":33,"t":9,"v":-0.141},{"s":33,"t":10,"v":-0.145},{"s":33,"t":12,"v":-0.15},{"s":33,"t":14,"v":-0.143},{"s":33,"t":15,"v":-0.135},{"s":33,"t":16,"v":-0.123},{"s":33,"t":17,"v":-0.111},{"s":33,"t":18,"v":-0.099},{"s":33,"t":19,"v":-0.078},{"s":33,"t":20,"v":-0.051},{"s":33,"t":21,"v":-0.029},{"s":33,"t":22,"v":-0.015},{"s":33,"t":23,"v":-0.009},{"s":33,"t":24,"v":-0.005},{"s":33,"t":25,"v":-0.002},{"s":33,"t":27,"v":0.001},{"s":33,"t":30,"v":0.003},{"s":33,"t":32,"v":0.001},{"s":33,"t":35,"v":0.002},{"s":33,"t":38,"v":0.002},{"s":33,"t":40,"v":0.005},{"s":33,"t":43,"v":0.001},{"s":33,"t":47,"v":0.002},{"s":33,"t":49,"v":0},
{"s":34,"t":3,"v":-0.045},{"s":34,"t":4,"v":-0.083},{"s":34,"t":5,"v":-0.108},{"s":34,"t":6,"v":-0.126},{"s":34,"t":7,"v":-0.15},{"s":34,"t":8,"v":-0.15},{"s":34,"t":9,"v":-0.158},{"s":34,"t":10,"v":-0.164},{"s":34,"t":12,"v":-0.17},{"s":34,"t":14,"v":-0.162},{"s":34,"t":15,"v":-0.153},{"s":34,"t":16,"v":-0.139},{"s":34,"t":17,"v":-0.126},{"s":34,"t":18,"v":-0.112},{"s":34,"t":19,"v":-0.088},{"s":34,"t":20,"v":-0.058},{"s":34,"t":21,"v":-0.032},{"s":34,"t":22,"v":-0.017},{"s":34,"t":23,"v":-0.01},{"s":34,"t":24,"v":-0.005},{"s":34,"t":25,"v":-0.003},{"s":34,"t":27,"v":-0.001},{"s":34,"t":30,"v":-0.003},{"s":34,"t":32,"v":-0.001},{"s":34,"t":35,"v":-0.002},{"s":34,"t":38,"v":-0.002},{"s":34,"t":40,"v":-0.004},{"s":34,"t":43,"v":-0.001},{"s":34,"t":47,"v":-0.002},{"s":34,"t":49,"v":0},
{"s":35,"t":3,"v":-0.125},{"s":35,"t":4,"v":-0.145},{"s":35,"t":5,"v":-0.158},{"s":35,"t":6,"v":-0.167},{"s":35,"t":7,"v":-0.186},{"s":35,"t":8,"v":-0.18},{"s":35,"t":9,"v":-0.184},{"s":35,"t":10,"v":-0.187},{"s":35,"t":12,"v":-0.19},{"s":35,"t":14,"v":-0.181},{"s":35,"t":15,"v":-0.171},{"s":35,"t":16,"v":-0.156},{"s":35,"t":17,"v":-0.141},{"s":35,"t":18,"v":-0.125},{"s":35,"t":19,"v":-0.099},{"s":35,"t":20,"v":-0.065},{"s":35,"t":21,"v":-0.036},{"s":35,"t":22,"v":-0.019},{"s":35,"t":23,"v":-0.011},{"s":35,"t":24,"v":-0.006},{"s":35,"t":25,"v":-0.003},{"s":35,"t":27,"v":0.002},{"s":35,"t":30,"v":0},{"s":35,"t":32,"v":0.002},{"s":35,"t":35,"v":-0.004},{"s":35,"t":38,"v":0.001},{"s":35,"t":40,"v":-0.008},{"s":35,"t":43,"v":0},{"s":35,"t":47,"v":0.003},{"s":35,"t":49,"v":-0.001}
]},
"mark":{"type":"line","strokeWidth":1.5,"strokeCap":"butt","clip":true},
"encoding":{
"x":{"field":"t","type":"quantitative","scale":{"domain":[3,50],"nice":false,"zero":false},"axis":{"values":[10,20,30,40,50],"format":"d","title":"Diskretni vremenski koraci","labelFlush":false,"labelOverlap":false,"labelBound":false,"titlePadding":4}},
"y":{"field":"v","type":"quantitative","scale":{"domain":[-0.552,0.551],"nice":false,"zero":false},"axis":{"values":[-0.4,-0.2,0,0.2,0.4],"format":".1f","title":"Gradijent Rᵢ(t)","titlePadding":6}},
"color":{"field":"s","type":"nominal","scale":{"domain":[1,10,19,28,2,11,20,29,3,12,21,30,4,13,22,31,5,14,23,32,6,15,24,33,7,16,25,34,8,17,26,35,9,18,27],"range":["#1f77b4","#17becf","#bcbd22","#7f7f7f","#ff7f0e","#1f77b4","#17becf","#bcbd22","#2ca02c","#ff7f0e","#1f77b4","#17becf","#d62728","#2ca02c","#ff7f0e","#1f77b4","#9467bd","#d62728","#2ca02c","#ff7f0e","#8c564b","#9467bd","#d62728","#2ca02c","#e377c2","#8c564b","#9467bd","#d62728","#7f7f7f","#e377c2","#8c564b","#9467bd","#bcbd22","#7f7f7f","#e377c2"]},"legend":{"title":null,"direction":"horizontal","labelExpr":"'dR' + (toNumber(datum.value) >= 10 ? ['₀','₁','₂','₃','₄','₅','₆','₇','₈','₉'][floor(toNumber(datum.value)/10)] : '') + ['₀','₁','₂','₃','₄','₅','₆','₇','₈','₉'][toNumber(datum.value) % 10]"}},
"strokeDash":{"field":"s","type":"nominal","scale":{"domain":[1,10,19,28,2,11,20,29,3,12,21,30,4,13,22,31,5,14,23,32,6,15,24,33,7,16,25,34,8,17,26,35,9,18,27],"range":[[1,0],[1.5,2.5],[1.5,2.5],[1.5,2.5],[1.5,2.5],[1.5,2.5],[1.5,2.5],[1.5,2.5],[1.5,2.5],[1.5,2.5],[1.5,2.5],[1.5,2.5],[1.5,2.5],[1.5,2.5],[1.5,2.5],[1.5,2.5],[1.5,2.5],[1.5,2.5],[1.5,2.5],[1.5,2.5],[1.5,2.5],[1.5,2.5],[1.5,2.5],[1.5,2.5],[1.5,2.5],[1.5,2.5],[1.5,2.5],[1.5,2.5],[1.5,2.5],[1.5,2.5],[1.5,2.5],[1.5,2.5],[1.5,2.5],[1.5,2.5],[1.5,2.5]]},"legend":{"title":null,"direction":"horizontal","labelExpr":"'dR' + (toNumber(datum.value) >= 10 ? ['₀','₁','₂','₃','₄','₅','₆','₇','₈','₉'][floor(toNumber(datum.value)/10)] : '') + ['₀','₁','₂','₃','₄','₅','₆','₇','₈','₉'][toNumber(datum.value) % 10]"}}
}
}
